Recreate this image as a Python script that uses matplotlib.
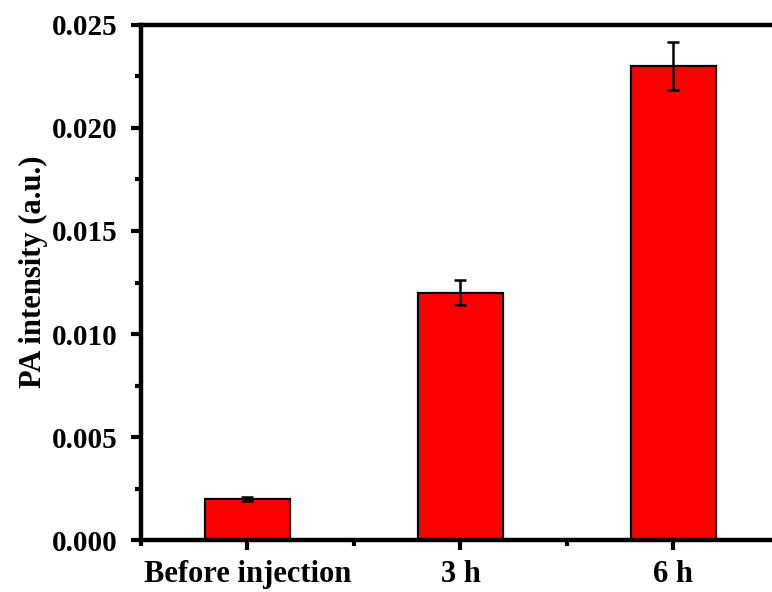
import matplotlib.pyplot as plt
from matplotlib.ticker import MultipleLocator

# PA signal before and after injection
groups = ["Before injection", "3 h", "6 h"]
intensity = [0.0020, 0.0120, 0.0230]
errors = [0.0001, 0.0006, 0.00115]

plt.rcParams['font.family'] = ['Liberation Serif', 'DejaVu Serif']
plt.rcParams['font.weight'] = 'bold'

fig = plt.figure(figsize=(7.72, 5.92), dpi=100)
ax = fig.add_axes([0.1826, 0.0878, 0.8277, 0.870])

x = range(len(groups))
ax.bar(x, intensity, width=0.4, color="#ff0000", edgecolor="black", linewidth=1.6,
       yerr=errors, capsize=4.5,
       error_kw=dict(ecolor="black", elinewidth=1.8, capthick=1.8))

ax.set_xlim(-0.5, 2.5)
ax.set_ylim(0, 0.025)
ax.set_xticks(list(x))
ax.set_xticklabels(groups, fontsize=22, fontweight='bold')
ax.xaxis.set_minor_locator(MultipleLocator(0.5))
ax.yaxis.set_major_locator(MultipleLocator(0.005))
ax.yaxis.set_minor_locator(MultipleLocator(0.0025))
ax.yaxis.set_major_formatter(plt.FormatStrFormatter('%.3f'))
for lab in ax.get_yticklabels():
    lab.set_fontsize(21)
    lab.set_fontweight('bold')

ax.set_ylabel("PA intensity (a.u.)", fontsize=22, fontweight='bold')
ax.yaxis.set_label_coords(-0.146, 0.52)

for side in ["left", "bottom", "top", "right"]:
    ax.spines[side].set_linewidth(3.2)

ax.tick_params(which='major', direction='out', length=7.5, width=3,
               top=False, right=False)
ax.tick_params(axis='x', which='major', pad=7)
ax.tick_params(axis='y', which='major', pad=9)
ax.tick_params(which='minor', direction='out', length=4, width=3,
               top=False, right=False)

plt.savefig("out.png", dpi=100)
